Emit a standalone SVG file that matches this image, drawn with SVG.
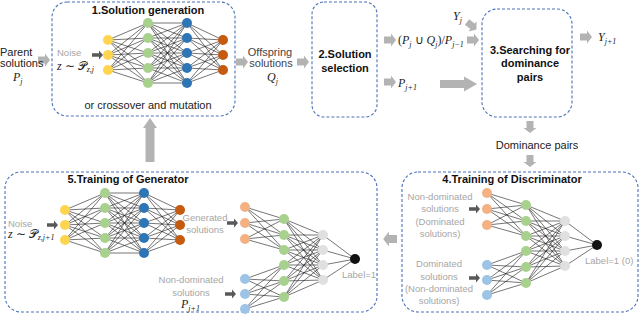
<svg xmlns="http://www.w3.org/2000/svg" width="640" height="314" viewBox="0 0 640 314">
<style>
.box{fill:none;stroke:#4a72b8;stroke-width:1.1;stroke-dasharray:3 2}
.t{font-family:"Liberation Sans",Arial,sans-serif;font-weight:bold;font-size:11px;fill:#111;text-anchor:middle}
.s{font-family:"Liberation Sans",Arial,sans-serif;font-size:11px;fill:#222}
.g{font-family:"Liberation Sans",Arial,sans-serif;font-size:9.5px;fill:#a6a6a6;text-anchor:middle}
.m{font-family:"Liberation Serif","Times New Roman",serif;font-style:italic;font-size:12px;fill:#222}
.up{font-style:normal}
.sub{font-size:8px}
.ln{fill:none;stroke:#1a1a1a;stroke-width:0.6}
.ga{fill:#b3b3b3}
.da{fill:#595959}
.y{fill:#ffd54f}.gr{fill:#a9d18e}.b{fill:#2e75b6}.o{fill:#c55a11}.lo{fill:#f4b183}.lb{fill:#9dc3e6}.gy{fill:#e0e0e0}.k{fill:#111}
</style>
<defs>
<path id="garr" d="M0,-3.5H7V-6.5L12,0L7,6.5V3.5H0Z"/>
<path id="darr" d="M0,-1.8H7V-4.5L11,0L7,4.5V1.8H0Z"/>
<g id="gen">
<path class="ln" d="M0 17L40 0M0 17L40 15M0 17L40 30M0 17L40 45M0 17L40 60M0 32L40 0M0 32L40 15M0 32L40 30M0 32L40 45M0 32L40 60M0 47L40 0M0 47L40 15M0 47L40 30M0 47L40 45M0 47L40 60
M40 0L79 0M40 0L79 15M40 0L79 30M40 0L79 45M40 0L79 60M40 15L79 0M40 15L79 15M40 15L79 30M40 15L79 45M40 15L79 60M40 30L79 0M40 30L79 15M40 30L79 30M40 30L79 45M40 30L79 60M40 45L79 0M40 45L79 15M40 45L79 30M40 45L79 45M40 45L79 60M40 60L79 0M40 60L79 15M40 60L79 30M40 60L79 45M40 60L79 60
M79 0L115 17M79 0L115 32M79 0L115 47M79 15L115 17M79 15L115 32M79 15L115 47M79 30L115 17M79 30L115 32M79 30L115 47M79 45L115 17M79 45L115 32M79 45L115 47M79 60L115 17M79 60L115 32M79 60L115 47"/>
<circle class="y" cx="0" cy="17" r="5"/><circle class="y" cx="0" cy="32" r="5"/><circle class="y" cx="0" cy="47" r="5"/>
<circle class="gr" cx="40" cy="0" r="5"/><circle class="gr" cx="40" cy="15" r="5"/><circle class="gr" cx="40" cy="30" r="5"/><circle class="gr" cx="40" cy="45" r="5"/><circle class="gr" cx="40" cy="60" r="5"/>
<circle class="b" cx="79" cy="0" r="5"/><circle class="b" cx="79" cy="15" r="5"/><circle class="b" cx="79" cy="30" r="5"/><circle class="b" cx="79" cy="45" r="5"/><circle class="b" cx="79" cy="60" r="5"/>
<circle class="o" cx="115" cy="17" r="5"/><circle class="o" cx="115" cy="32" r="5"/><circle class="o" cx="115" cy="47" r="5"/>
</g>
<g id="disc">
<path class="ln" d="M0 0L39 12M0 0L39 28M0 0L39 43M0 16L39 12M0 16L39 28M0 16L39 43M0 32L39 12M0 32L39 28M0 32L39 43
M0 72L39 58M0 72L39 74M0 72L39 90M0 87L39 58M0 87L39 74M0 87L39 90M0 102L39 58M0 102L39 74M0 102L39 90
M39 12L78 28M39 12L78 43M39 12L78 58M39 12L78 73M39 28L78 28M39 28L78 43M39 28L78 58M39 28L78 73M39 43L78 28M39 43L78 43M39 43L78 58M39 43L78 73M39 58L78 28M39 58L78 43M39 58L78 58M39 58L78 73M39 74L78 28M39 74L78 43M39 74L78 58M39 74L78 73M39 90L78 28M39 90L78 43M39 90L78 58M39 90L78 73
M78 28L110 52M78 43L110 52M78 58L110 52M78 73L110 52"/>
<circle class="lo" cx="0" cy="0" r="5"/><circle class="lo" cx="0" cy="16" r="5"/><circle class="lo" cx="0" cy="32" r="5"/>
<circle class="lb" cx="0" cy="72" r="5"/><circle class="lb" cx="0" cy="87" r="5"/><circle class="lb" cx="0" cy="102" r="5"/>
<circle class="gr" cx="39" cy="12" r="5"/><circle class="gr" cx="39" cy="28" r="5"/><circle class="gr" cx="39" cy="43" r="5"/><circle class="gr" cx="39" cy="58" r="5"/><circle class="gr" cx="39" cy="74" r="5"/><circle class="gr" cx="39" cy="90" r="5"/>
<circle class="gy" cx="78" cy="28" r="5"/><circle class="gy" cx="78" cy="43" r="5"/><circle class="gy" cx="78" cy="58" r="5"/><circle class="gy" cx="78" cy="73" r="5"/>
<circle class="k" cx="110" cy="52" r="5"/>
</g>
</defs>

<g id="connectors">
<use href="#garr" class="ga" transform="translate(38,60)"/>
<use href="#garr" class="ga" transform="translate(236,62)"/>
<use href="#garr" class="ga" transform="translate(297,62)"/>
<use href="#garr" class="ga" transform="translate(384,40)"/>
<use href="#garr" class="ga" transform="translate(384,82)"/>
<use href="#garr" class="ga" transform="translate(467,40)"/>
<use href="#garr" class="ga" transform="translate(467,22) rotate(38)"/>
<use href="#garr" class="ga" transform="translate(580,37)"/>
<path class="ga" d="M440,80H464V76.5L477,84L464,91.5V88H440Z"/>
<use href="#garr" class="ga" transform="translate(530,121) rotate(90)"/>
<use href="#garr" class="ga" transform="translate(530,155) rotate(90)"/>
<use href="#garr" class="ga" transform="translate(397,239) rotate(180) scale(1.15)"/>
<path class="ga" d="M150,118L157,128H154.5V162H145.5V128H143Z"/>
<use href="#darr" class="da" transform="translate(92,55)"/>
<use href="#darr" class="da" transform="translate(47,225)"/>
<use href="#darr" class="da" transform="translate(227,223)"/>
<use href="#darr" class="da" transform="translate(225,294)"/>
<use href="#darr" class="da" transform="translate(469,209)"/>
<use href="#darr" class="da" transform="translate(469,278)"/>
</g>

<g id="parent">
<text class="s" x="0" y="56">Parent</text>
<text class="s" x="0" y="67">solutions</text>
<text class="m" x="13" y="81">P<tspan class="sub" dy="3">j</tspan></text>
</g>

<g id="n1">
<rect class="box" x="52" y="2" width="183" height="114" rx="15"/>
<text class="t" x="148" y="14">1.Solution generation</text>
<use href="#gen" transform="translate(108,23)"/>
<text class="g" x="57" y="56" style="text-anchor:start">Noise</text>
<text class="m" x="57" y="70" font-size="10">z<tspan class="up"> ∼ </tspan><tspan font-family="DejaVu Sans" font-style="normal">𝒫</tspan><tspan class="sub" dy="2" font-size="7">z,j</tspan></text>
<text class="s" x="148" y="109" style="text-anchor:middle">or crossover and mutation</text>
</g>

<g id="offspring">
<text class="s" x="270" y="56" font-size="10" style="text-anchor:middle;fill:#444">Offspring</text>
<text class="s" x="271" y="67" font-size="10" style="text-anchor:middle;fill:#444">solutions</text>
<text class="m" x="267" y="81">Q<tspan class="sub" dy="3">j</tspan></text>
</g>

<g id="n2">
<rect class="box" x="312" y="2" width="65" height="115" rx="12"/>
<text class="t" x="345" y="58">2.Solution</text>
<text class="t" x="345" y="72">selection</text>
</g>

<g id="setlabels">
<text class="m" x="398" y="44" font-size="11"><tspan class="up">(</tspan>P<tspan class="sub" dy="2.5">j</tspan><tspan class="up" dy="-2.5"> ∪ </tspan>Q<tspan class="sub" dy="2.5">j</tspan><tspan class="up" dy="-2.5">)/</tspan>P<tspan class="sub" dy="2.5">j−1</tspan></text>
<text class="m" x="398" y="87">P<tspan class="sub" dy="3">j+1</tspan></text>
<text class="m" x="453" y="20">Y<tspan class="sub" dy="3">j</tspan></text>
<text class="m" x="598" y="41">Y<tspan class="sub" dy="3">j+1</tspan></text>
</g>

<g id="n3">
<rect class="box" x="482" y="9" width="90" height="108" rx="15"/>
<text class="t" x="530" y="54">3.Searching for</text>
<text class="t" x="530" y="67">dominance</text>
<text class="t" x="530" y="81">pairs</text>
</g>

<g id="pairs">
<text class="s" x="537" y="149" style="text-anchor:middle" font-size="11.5">Dominance pairs</text>
</g>

<g id="n4">
<rect class="box" x="402" y="172" width="236" height="140" rx="16"/>
<text class="t" x="512" y="183">4.Training of Discriminator</text>
<use href="#disc" transform="translate(487,193)"/>
<text class="g" x="440" y="199.5">Non-dominated</text>
<text class="g" x="440" y="211.5">solutions</text>
<text class="g" x="440" y="224.5">(Dominated</text>
<text class="g" x="440" y="236.5">solutions)</text>
<text class="g" x="439" y="266.5">Dominated</text>
<text class="g" x="439" y="279.5">solutions</text>
<text class="g" x="439" y="291.5">(Non-dominated</text>
<text class="g" x="439" y="303.5">solutions)</text>
<text class="g" x="585" y="264" font-size="10" style="text-anchor:start">Label=1 (0)</text>
</g>

<g id="n5">
<rect class="box" x="5" y="172" width="372" height="140" rx="16"/>
<text class="t" x="128" y="183">5.Training of Generator</text>
<use href="#gen" transform="translate(65,193)"/>
<use href="#disc" transform="translate(245,207)"/>
<text class="g" x="8" y="226.5" style="text-anchor:start">Noise</text>
<text class="m" x="8" y="238" font-size="10">z<tspan class="up"> ∼ </tspan><tspan font-family="DejaVu Sans" font-style="normal">𝒫</tspan><tspan class="sub" dy="2" font-size="7">z,j+1</tspan></text>
<text class="g" x="205" y="220.5">Generated</text>
<text class="g" x="205" y="232.5">solutions</text>
<text class="g" x="191" y="282.5">Non-dominated</text>
<text class="g" x="191" y="295.5">solutions</text>
<text class="m" x="181" y="308">P<tspan class="sub" dy="3">j+1</tspan></text>
<text class="g" x="342" y="277.5" font-size="10" style="text-anchor:start">Label=1</text>
</g>
</svg>
